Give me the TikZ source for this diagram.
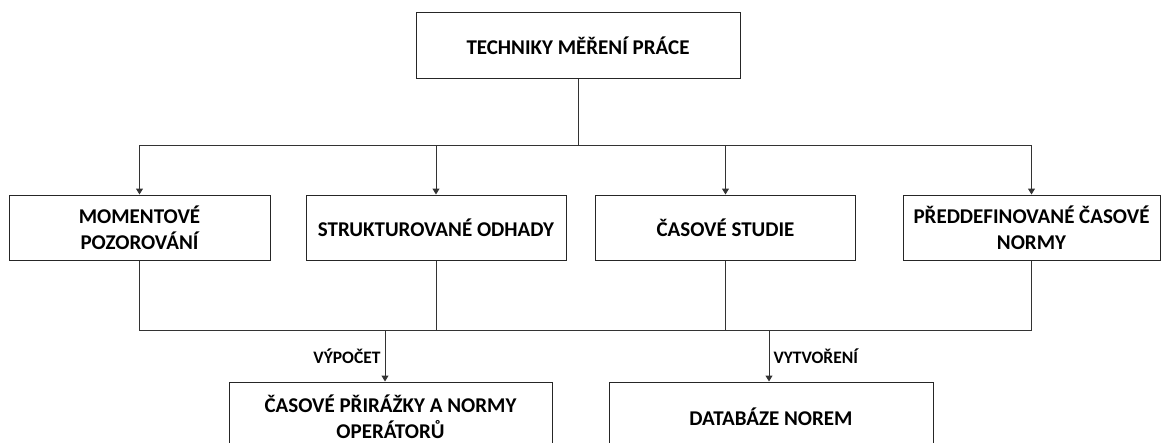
\documentclass[tikz,border=0pt]{standalone}
\usepackage{fontspec}
\setmainfont{Carlito}
\usetikzlibrary{arrows.meta}
\begin{document}
\begin{tikzpicture}[x=1pt,y=-1pt,
  conn/.style={draw=black!80, line width=1pt},
  arr/.style={conn, -{Triangle[length=6pt,width=7pt]}},
  box/.style={draw=black!85, line width=1pt, minimum height=65pt, inner sep=0pt,
    align=center, font=\bfseries\fontsize{21}{25.5}\selectfont},
  lab/.style={inner sep=4pt, font=\bfseries\fontsize{17.5}{20}\selectfont}]
\useasboundingbox (0,0) rectangle (1162,442);
\clip (0,0) rectangle (1162,442);

% root
\node[box, minimum width=324pt, minimum height=66pt] (top) at (578,45.5) {TECHNIKY MĚŘENÍ PRÁCE};

% four techniques
\node[box, minimum width=261pt] (mom) at (139.5,227.5) {MOMENTOVÉ\\POZOROVÁNÍ};
\node[box, minimum width=260pt] (str) at (436,227.5) {STRUKTUROVANÉ ODHADY};
\node[box, minimum width=260pt] (cas) at (725.5,227.5) {ČASOVÉ STUDIE};
\node[box, minimum width=257pt] (pre) at (1031.5,227.5) {PŘEDDEFINOVANÉ ČASOVÉ\\NORMY};

% outputs
\node[box, minimum width=323pt, minimum height=70pt] (pri) at (390.5,417) {ČASOVÉ PŘIRÁŽKY A NORMY\\OPERÁTORŮ};
\node[box, minimum width=324pt, minimum height=70pt] (dat) at (771,417) {DATABÁZE NOREM};

% upper distribution bus
\coordinate (busT) at (578,145);
\draw[conn] (top.south) -- (top.south |- busT);
\draw[conn] (mom.north |- busT) -- (pre.north |- busT);
\foreach \n in {mom,str,cas,pre}
  \draw[arr] (\n.north |- busT) -- (\n.north);

% lower collecting bus
\coordinate (busB) at (0,330);
\draw[conn] (mom.south) -- (mom.south |- busB) -- (pre.south |- busB) -- (pre.south);
\draw[conn] (str.south) -- (str.south |- busB);
\draw[conn] (cas.south) -- (cas.south |- busB);

% branches to the outputs
\coordinate (j1) at (385,330);
\coordinate (j2) at (769,330);
\draw[arr] (j1) -- node[left, lab] (l1) {VÝPOČET} (j1 |- pri.north);
\draw[arr] (j2) -- node[right, lab] (l2) {VYTVOŘENÍ} (j2 |- dat.north);
\end{tikzpicture}
\end{document}
